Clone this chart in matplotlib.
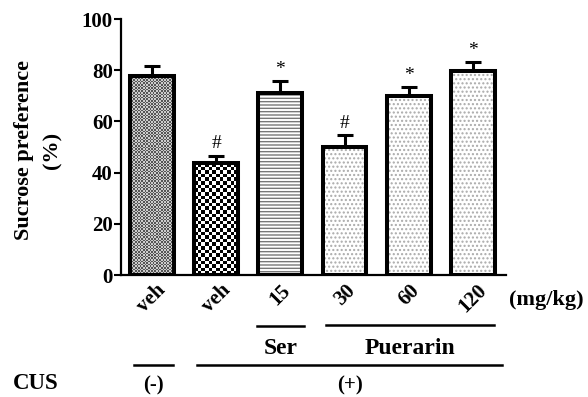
import numpy as np
import matplotlib
matplotlib.use("Agg")
import matplotlib.pyplot as plt
import matplotlib.transforms as mtransforms
from matplotlib.lines import Line2D

plt.rcParams['font.family'] = ['Liberation Serif', 'DejaVu Serif']
plt.rcParams['font.weight'] = 'bold'
plt.rcParams['hatch.linewidth'] = 1.0

# data
labels = ['veh', 'veh', '15', '30', '60', '120']
means = [77.7, 43.6, 71.2, 49.9, 70.0, 79.8]
sems = [4.1, 3.1, 4.6, 4.9, 3.3, 3.3]
marks = ['', '#', '*', '#', '*', '*']
hatches = ['', '', '-----', '....', '....', '....']
hatch_cols = ['white', 'white', '#777777', '#aaaaaa', '#aaaaaa', '#aaaaaa']

fig = plt.figure(figsize=(5.88, 3.97), dpi=100)
ax = fig.add_axes([0.206, 0.307, 0.655, 0.645])

x = np.arange(len(labels))
w = 0.68
# pattern fill, then the thick black outline on top
fills = ax.bar(x, means, w, color='white', edgecolor=hatch_cols, hatch=hatches, linewidth=0, zorder=2)
ax.bar(x, means, w, color='none', edgecolor='black', linewidth=2.9, zorder=3)

# checker textures for the two vehicle bars
def checker(patch, cell_px, dark, light):
    bx, by = patch.get_x(), patch.get_y()
    bw, bh = patch.get_width(), patch.get_height()
    nx = max(1, int(round(bw * 64.2 / cell_px)))
    ny = max(1, int(round(bh * 2.56 / cell_px)))
    board = (np.add.outer(np.arange(ny), np.arange(nx)) % 2).astype(float)
    cmap = matplotlib.colors.ListedColormap([light, dark])
    im = ax.imshow(board, extent=[bx, bx + bw, by, by + bh], aspect='auto',
                   cmap=cmap, interpolation='nearest', zorder=2.5, origin='lower')
    im.set_clip_path(patch)

checker(fills[0], 1.6, '#555555', '#cccccc')
checker(fills[1], 3.6, '#000000', '#ffffff')

ax.errorbar(x, means, yerr=[np.zeros(len(sems)), sems], fmt='none', ecolor='black',
            elinewidth=2.2, capsize=5.5, capthick=2.2, zorder=1)

for xi, m, s, t in zip(x, means, sems, marks):
    if t:
        ax.text(xi, m + s + 1.2, t, ha='center', va='bottom', fontsize=14, fontweight='normal')

ax.set_xlim(-0.48, 5.52)
ax.set_ylim(0, 100)
ax.set_yticks([0, 20, 40, 60, 80, 100])
ax.tick_params(axis='y', labelsize=15, width=1.5, length=5, pad=1)
ax.tick_params(axis='x', length=0, labelsize=15, pad=4)
ax.set_xticks(x)
ax.set_xticklabels(labels, rotation=45, ha='center', va='top')
for s in ['top', 'right']:
    ax.spines[s].set_visible(False)
for s in ['left', 'bottom']:
    ax.spines[s].set_linewidth(1.6)

fig.text(0.065, 0.622, 'Sucrose preference\n(%)', rotation=90, ha='center', va='center',
         fontsize=16, fontweight='bold', linespacing=1.6)

trans = mtransforms.blended_transform_factory(ax.transData, fig.transFigure)
ax.text(6.14, 0.244, '(mg/kg)', transform=trans, ha='center', va='center', fontsize=16, clip_on=False)

# group lines and labels under the axis
groups = [(1.64, 2.37, 0.179, 'Ser', 0.108, 17),
          (2.71, 5.33, 0.181, 'Puerarin', 0.108, 17),
          (-0.28, 0.33, 0.081, '(-)', 0.017, 15),
          (0.70, 5.46, 0.081, '(+)', 0.017, 15)]
for x0, x1, yl, txt, yt, fs in groups:
    fig.add_artist(Line2D([x0, x1], [yl, yl], transform=trans, color='black', lw=1.8))
    ax.text((x0 + x1) / 2, yt, txt, transform=trans, ha='center', va='baseline',
            fontsize=fs, fontweight='bold', clip_on=False)

fig.text(0.061, 0.020, 'CUS', ha='center', va='baseline', fontsize=16.5, fontweight='bold')

fig.savefig('out.png', dpi=100)
